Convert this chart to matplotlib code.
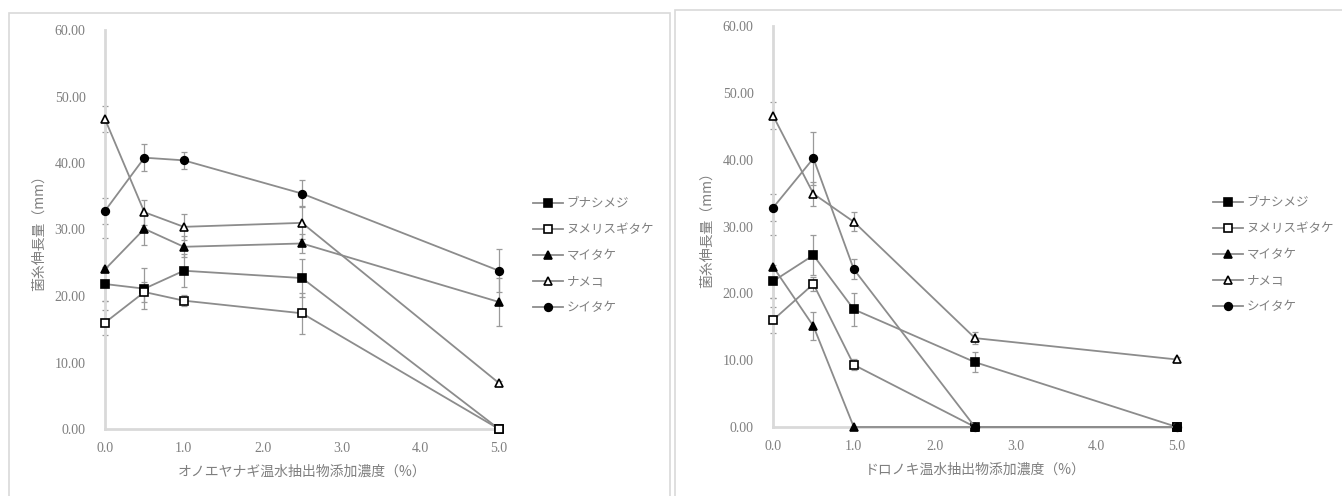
import matplotlib.pyplot as plt
from matplotlib.patches import Rectangle
import numpy as np

plt.rcParams['font.family'] = ['Noto Sans CJK JP', 'DejaVu Sans']

x = [0.0, 0.5, 1.0, 2.5, 5.0]
names = ['ブナシメジ', 'ヌメリスギタケ', 'マイタケ', 'ナメコ', 'シイタケ']

# オノエヤナギ
left_vals = {
    'ブナシメジ': [21.8, 21.1, 23.8, 22.7, 0.0],
    'ヌメリスギタケ': [16.0, 20.6, 19.3, 17.4, 0.0],
    'マイタケ': [24.0, 30.1, 27.4, 27.9, 19.1],
    'ナメコ': [46.6, 32.6, 30.4, 31.0, 6.9],
    'シイタケ': [32.8, 40.8, 40.4, 35.4, 23.8],
}
left_err = {
    'ブナシメジ': [2.5, 3.1, 2.5, 2.9, 0.0],
    'ヌメリスギタケ': [1.9, 1.5, 0.8, 3.1, 0.0],
    'マイタケ': [4.7, 2.4, 1.6, 1.4, 3.6],
    'ナメコ': [2.0, 1.9, 2.0, 2.5, 0.3],
    'シイタケ': [2.0, 2.0, 1.3, 2.0, 3.2],
}

# ドロノキ
right_vals = {
    'ブナシメジ': [21.8, 25.7, 17.6, 9.7, 0.0],
    'ヌメリスギタケ': [16.0, 21.4, 9.3, 0.0, 0.0],
    'マイタケ': [24.0, 15.1, 0.0, 0.0, 0.0],
    'ナメコ': [46.6, 34.9, 30.7, 13.3, 10.1],
    'シイタケ': [32.8, 40.2, 23.6, 0.0, 0.0],
}
right_err = {
    'ブナシメジ': [2.5, 3.0, 2.5, 1.5, 0.0],
    'ヌメリスギタケ': [1.9, 1.0, 0.8, 0.0, 0.0],
    'マイタケ': [4.7, 2.1, 0.0, 0.0, 0.0],
    'ナメコ': [2.0, 1.8, 1.4, 0.9, 0.3],
    'シイタケ': [2.0, 4.0, 1.5, 0.0, 0.0],
}

markers = {
    'ブナシメジ': ('s', 'black'),
    'ヌメリスギタケ': ('s', 'white'),
    'マイタケ': ('^', 'black'),
    'ナメコ': ('^', 'white'),
    'シイタケ': ('o', 'black'),
}

W, H = 1342, 496
fig = plt.figure(figsize=(W / 100, H / 100), dpi=100)

# chart frames
fig.patches.append(Rectangle((9 / W, -0.05), (670 - 9) / W, 1.05 - 13 / H,
                             transform=fig.transFigure, fill=False,
                             edgecolor='#d9d9d9', lw=1.2))
fig.patches.append(Rectangle((675 / W, -0.05), (1350 - 675) / W, 1.05 - 10 / H,
                             transform=fig.transFigure, fill=False,
                             edgecolor='#d9d9d9', lw=1.2))

txt = '#7f7f7f'
line_c = '#8c8c8c'


def draw(ax, vals, errs, xlabel, leg_xy):
    for n in names:
        m, fc = markers[n]
        ax.errorbar(x, vals[n], yerr=errs[n], fmt='none', ecolor='#9a9a9a',
                    elinewidth=0.9, capsize=2.5, capthick=0.9, clip_on=False, zorder=2)
        ms = 5.5 if m == 'o' else 6
        ax.plot(x, vals[n], color=line_c, lw=1.3, marker=m, markersize=ms,
                markerfacecolor=fc, markeredgecolor='black', markeredgewidth=1.2,
                label=n, clip_on=False, zorder=3)
    ax.set_xlim(0, 5)
    ax.set_ylim(0, 60)
    ax.set_xticks(np.arange(0, 5.1, 1.0))
    ax.set_xticklabels([f'{v:.1f}' for v in np.arange(0, 5.1, 1.0)])
    ax.set_yticks(np.arange(0, 61, 10))
    ax.set_yticklabels([f'{v:.2f}' for v in np.arange(0, 61, 10)])
    for lab in ax.get_xticklabels() + ax.get_yticklabels():
        lab.set_fontfamily('Liberation Serif')
        lab.set_fontsize(10)
        lab.set_color(txt)
    ax.tick_params(length=0)
    ax.tick_params(axis='y', pad=14)
    ax.tick_params(axis='x', pad=9)
    for s in ['top', 'right']:
        ax.spines[s].set_visible(False)
    for s in ['left', 'bottom']:
        ax.spines[s].set_color('#d9d9d9')
        ax.spines[s].set_linewidth(2)
    ax.set_xlabel(xlabel, fontsize=10, color=txt, labelpad=7)
    ax.set_ylabel('菌糸伸長量（mm）', fontsize=10, color=txt, labelpad=6)
    leg = ax.legend(loc='upper left', bbox_to_anchor=leg_xy,
                    bbox_transform=fig.transFigure, frameon=False,
                    fontsize=9, handlelength=2.4, handletextpad=0.3,
                    labelspacing=1.05, borderpad=0, borderaxespad=0)
    for t in leg.get_texts():
        t.set_color(txt)


ax1 = fig.add_axes([105 / W, 1 - 429 / H, (499 - 105) / W, (429 - 30) / H])
draw(ax1, left_vals, left_err, 'オノエヤナギ温水抽出物添加濃度（%）',
     (533 / W, 1 - 197 / H))

ax2 = fig.add_axes([773 / W, 1 - 427 / H, (1177 - 773) / W, (427 - 26) / H])
draw(ax2, right_vals, right_err, 'ドロノキ温水抽出物添加濃度（%）',
     (1213 / W, 1 - 196 / H))

fig.savefig('out.png', dpi=100)
